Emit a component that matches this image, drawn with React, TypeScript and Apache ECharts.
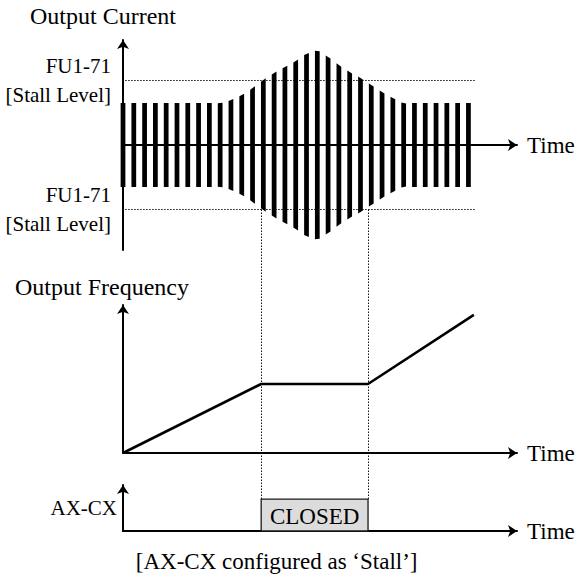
import React, { useEffect, useRef } from "react";
import * as echarts from "echarts";

// ---- data (time in units of one current-pulse period) ----
const BAR_T = [0, 1, 2, 3, 4, 5, 6, 7, 8, 9, 10, 11, 12, 13, 14, 15, 16, 17, 18, 19, 20, 21, 22, 23, 24, 25, 26, 27, 28, 29, 30, 31, 32];
const BAR_AMP = [42, 42, 42, 42, 42, 42, 42, 42, 42, 42, 45, 50, 57, 65, 72, 78, 84, 91, 94, 88, 80, 73, 67, 60, 53, 47, 42, 42, 42, 42, 42, 42, 42];
const STALL_LEVEL = 64.5;
const STALL_TICKS = [-64.5, 64.5];
const STALL_LABEL = ["FU1-71", "[Stall Level]"];
const STALL_LINE_T = [0.2, 32.6];
const FREQ_T = [0, 12.8, 22.7, 32.5];
const FREQ_V = [0, 50, 50, 100];
const RELAY_ON = [12.8, 22.7];
const RELAY_LEVEL = 1;
const RELAY_LABEL = "CLOSED";
const PANEL_TITLES = ["Output Current", "Output Frequency", "AX-CX"];
const TIME_LABEL = "Time";
const CAPTION = "[AX-CX configured as \u2018Stall\u2019]";

const FONT = '"Liberation Serif", "Times New Roman", serif';
const BAR_HW = 0.22;
const DOT_STYLE = { color: "#111", width: 1, type: [1.5, 1.5] };

function xAxisFor(gridIndex: number) {
  return {
    type: "value",
    gridIndex,
    min: 0,
    max: 36.5,
    axisLine: {
      show: true,
      onZero: true,
      symbol: ["none", "arrow"],
      symbolSize: [9, 9],
      lineStyle: { color: "#000", width: 2 },
    },
    axisTick: { show: false },
    axisLabel: { show: false },
    splitLine: { show: false },
    name: TIME_LABEL,
    nameLocation: "end",
    nameGap: 10,
    nameTextStyle: { fontFamily: FONT, fontSize: 23, color: "#000", align: "left", verticalAlign: "middle" },
  };
}

const baseYAxisLine = {
  show: true,
  onZero: false,
  symbol: ["none", "arrow"],
  symbolSize: [9, 9],
  lineStyle: { color: "#000", width: 2 },
};

export default function App() {
  const ref = useRef<HTMLDivElement>(null);
  useEffect(() => {
    document.body.style.margin = "0";
    if (!ref.current) return;
    const chart = echarts.init(ref.current, undefined, { renderer: "svg" });
    const option: any = {
      animation: false,
      backgroundColor: "#fff",
      grid: [
        { left: 123, width: 394, top: 40, height: 210 },
        { left: 123, width: 394, top: 305, height: 148 },
        { left: 123, width: 394, top: 485, height: 46 },
      ],
      xAxis: [xAxisFor(0), xAxisFor(1), xAxisFor(2)],
      yAxis: [
        {
          type: "value",
          gridIndex: 0,
          min: -105,
          max: 105,
          axisLine: baseYAxisLine,
          axisTick: { show: false },
          splitLine: { show: false },
          axisLabel: {
            show: true,
            customValues: STALL_TICKS,
            formatter: () => STALL_LABEL.join("\n"),
            fontFamily: FONT,
            fontSize: 21,
            lineHeight: 29,
            color: "#000",
            align: "right",
            margin: 12,
            padding: [11, 0, 0, 0],
          },
          name: PANEL_TITLES[0],
          nameLocation: "end",
          nameGap: 12,
          nameTextStyle: {
            fontFamily: FONT,
            fontSize: 24,
            color: "#000",
            align: "center",
            verticalAlign: "bottom",
            padding: [0, 40, 0, 0],
          },
        },
        {
          type: "value",
          gridIndex: 1,
          min: 0,
          max: 107.2,
          axisLine: baseYAxisLine,
          axisTick: { show: false },
          axisLabel: { show: false },
          splitLine: { show: false },
          name: PANEL_TITLES[1],
          nameLocation: "end",
          nameGap: 6,
          nameTextStyle: {
            fontFamily: FONT,
            fontSize: 24,
            color: "#000",
            align: "center",
            verticalAlign: "bottom",
            padding: [0, 42, 0, 0],
          },
        },
        {
          type: "value",
          gridIndex: 2,
          min: 0,
          max: 1.44,
          axisLine: baseYAxisLine,
          axisTick: { show: false },
          axisLabel: { show: false },
          splitLine: { show: false },
          name: PANEL_TITLES[2],
          nameLocation: "middle",
          nameRotate: 0,
          nameGap: 6,
          nameTextStyle: {
            fontFamily: FONT,
            fontSize: 21,
            color: "#000",
            align: "right",
            verticalAlign: "middle",
          },
        },
      ],
      series: [
        {
          type: "line",
          xAxisIndex: 0,
          yAxisIndex: 0,
          data: STALL_LINE_T.map((t) => [t, STALL_LEVEL]),
          showSymbol: false,
          z: 1,
          lineStyle: DOT_STYLE,
        },
        {
          type: "line",
          xAxisIndex: 0,
          yAxisIndex: 0,
          data: STALL_LINE_T.map((t) => [t, -STALL_LEVEL]),
          showSymbol: false,
          z: 1,
          lineStyle: DOT_STYLE,
        },
        {
          type: "custom",
          xAxisIndex: 0,
          yAxisIndex: 0,
          z: 3,
          data: BAR_T.map((t, i) => [t, BAR_AMP[i]]),
          encode: { x: 0, y: 1 },
          renderItem: (params: any, api: any) => {
            const i = params.dataIndex;
            const t = api.value(0);
            const a = api.value(1);
            const prev = BAR_AMP[Math.max(0, i - 1)];
            const next = BAR_AMP[Math.min(BAR_AMP.length - 1, i + 1)];
            const s = (next - prev) / 2;
            const aL = a - s * BAR_HW;
            const aR = a + s * BAR_HW;
            const points = [
              api.coord([t - BAR_HW, aL]),
              api.coord([t + BAR_HW, aR]),
              api.coord([t + BAR_HW, -aR]),
              api.coord([t - BAR_HW, -aL]),
            ];
            return { type: "polygon", shape: { points }, style: { fill: "#000" } };
          },
        },
        {
          type: "line",
          xAxisIndex: 1,
          yAxisIndex: 1,
          data: FREQ_T.map((t, i) => [t, FREQ_V[i]]),
          showSymbol: false,
          lineStyle: { color: "#000", width: 2.6 },
          z: 3,
        },
        {
          type: "custom",
          xAxisIndex: 2,
          yAxisIndex: 2,
          z: 3,
          data: [[RELAY_ON[0], RELAY_ON[1], RELAY_LEVEL]],
          encode: { x: [0, 1], y: 2 },
          renderItem: (params: any, api: any) => {
            const p0 = api.coord([api.value(0), api.value(2)]);
            const p1 = api.coord([api.value(1), 0]);
            return {
              type: "group",
              children: [
                {
                  type: "rect",
                  shape: { x: p0[0], y: p0[1], width: p1[0] - p0[0], height: p1[1] - p0[1] },
                  style: { fill: "#dcdcdc", stroke: "#1a1a1a", lineWidth: 1.3 },
                },
                {
                  type: "text",
                  style: {
                    text: RELAY_LABEL,
                    x: (p0[0] + p1[0]) / 2,
                    y: (p0[1] + p1[1]) / 2 + 1,
                    align: "center",
                    verticalAlign: "middle",
                    fontFamily: FONT,
                    fontSize: 23,
                    fill: "#000",
                  },
                },
              ],
            };
          },
        },
      ],
    };
    chart.setOption(option);

    const guides = RELAY_ON.map((t) => {
      const p1 = chart.convertToPixel({ gridIndex: 0 } as any, [t, -STALL_LEVEL]) as number[];
      const p2 = chart.convertToPixel({ gridIndex: 2 } as any, [t, RELAY_LEVEL]) as number[];
      const x = Math.round(p1[0]) + 0.5;
      return {
        type: "line",
        z: 0,
        shape: { x1: x, y1: p1[1], x2: x, y2: p2[1] },
        style: { stroke: "#111", lineWidth: 1, lineDash: [1.5, 1.5] },
      };
    });
    const w = chart.getWidth();
    const h = chart.getHeight();
    chart.setOption({
      graphic: [
        ...guides,
        {
          type: "text",
          x: w * 0.477,
          y: h * 0.974,
          style: {
            text: CAPTION,
            align: "center",
            verticalAlign: "middle",
            fontFamily: FONT,
            fontSize: 23,
            fill: "#000",
          },
        },
      ],
    });
    return () => chart.dispose();
  }, []);
  return <div ref={ref} style={{ width: 580, height: 577 }} />;
}
